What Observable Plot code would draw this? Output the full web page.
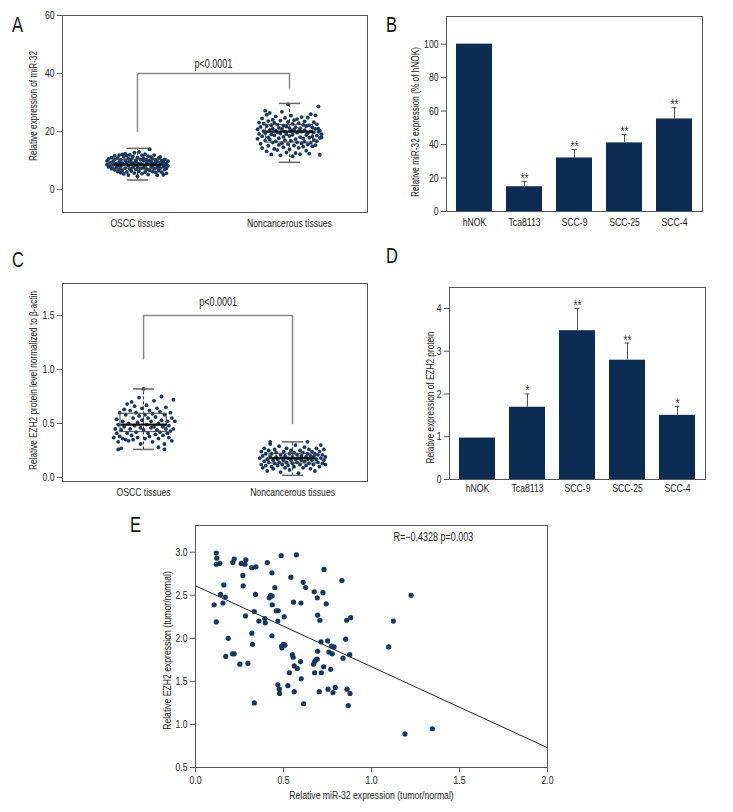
<!DOCTYPE html>
<html><head><meta charset="utf-8">
<script src="https://cdn.jsdelivr.net/npm/d3@7"></script>
<script src="https://cdn.jsdelivr.net/npm/@observablehq/plot@0.6"></script>
<style>
body{margin:0;background:#fff;}
#fig{position:relative;width:733px;height:812px;background:#fff;font-family:"Liberation Sans",Arial,sans-serif;}
.letter{position:absolute;font-size:22px;line-height:22px;color:#111;transform:scaleX(0.75);transform-origin:left top;}
</style></head><body><div id="fig"></div>
<script>
// ---------- DATA ----------
const tissueNames = ["OSCC tissues", "Noncancerous tissues"];
const groups = [1, 2];
const cells = ["hNOK", "Tca8113", "SCC-9", "SCC-25", "SCC-4"];

// Panel A: miR-32 relative expression, jittered points [offset, value]
const aOscc = [[-0.20,8.6],[-0.20,9.9],[-0.19,7.8],[-0.19,10.6],[-0.18,9.2],[-0.18,8.1],[-0.17,11.0],[-0.17,7.2],[-0.16,9.7],[-0.16,8.5],[-0.15,10.3],[-0.15,6.8],[-0.15,11.6],[-0.14,9.0],[-0.14,7.6],[-0.13,10.9],[-0.13,8.3],[-0.13,6.2],[-0.12,11.9],[-0.12,9.5],[-0.12,7.0],[-0.11,10.2],[-0.11,8.0],[-0.11,5.8],[-0.10,12.1],[-0.10,9.1],[-0.10,6.6],[-0.09,11.3],[-0.09,8.7],[-0.09,5.4],[-0.08,10.0],[-0.08,7.4],[-0.08,12.4],[-0.07,9.4],[-0.07,6.1],[-0.07,11.7],[-0.06,8.2],[-0.06,10.7],[-0.06,5.0],[-0.05,9.8],[-0.05,7.1],[-0.05,12.0],[-0.04,8.8],[-0.04,6.4],[-0.04,10.5],[-0.03,11.4],[-0.03,7.7],[-0.03,9.2],[-0.02,5.7],[-0.02,12.7],[-0.02,8.4],[-0.01,10.1],[-0.01,6.9],[-0.01,9.6],[0.00,11.1],[0.00,7.9],[0.00,4.6],[0.01,13.0],[0.01,8.9],[0.01,6.3],[0.02,10.4],[0.02,7.3],[0.02,9.0],[0.03,11.8],[0.03,5.5],[0.03,8.6],[0.04,10.8],[0.04,7.5],[0.04,9.9],[0.05,6.0],[0.05,12.2],[0.05,8.1],[0.06,10.3],[0.06,7.0],[0.06,9.3],[0.07,11.5],[0.07,5.2],[0.07,8.7],[0.08,13.9],[0.08,10.0],[0.08,6.7],[0.09,9.5],[0.09,7.8],[0.09,11.2],[0.10,8.3],[0.10,6.2],[0.10,10.6],[0.11,9.1],[0.11,7.2],[0.11,11.9],[0.12,8.6],[0.12,5.9],[0.12,10.2],[0.13,9.7],[0.13,7.6],[0.13,4.9],[0.14,8.0],[0.14,10.9],[0.14,6.5],[0.15,9.3],[0.15,7.4],[0.15,11.3],[0.16,8.8],[0.16,6.0],[0.16,10.1],[0.17,9.6],[0.17,7.9],[0.17,5.1],[0.18,8.4],[0.18,10.4],[0.18,6.9],[0.19,9.0],[0.19,7.3],[0.20,8.2],[0.20,9.8],[0.19,5.6]];
const aNon = [[-0.21,17.5],[-0.21,20.8],[-0.20,19.2],[-0.20,23.1],[-0.19,15.8],[-0.19,21.6],[-0.18,18.4],[-0.18,24.5],[-0.18,14.3],[-0.17,20.1],[-0.17,22.7],[-0.16,16.9],[-0.16,27.2],[-0.16,19.5],[-0.15,13.2],[-0.15,21.9],[-0.15,25.8],[-0.14,18.0],[-0.14,23.6],[-0.14,15.1],[-0.13,20.6],[-0.13,17.2],[-0.13,26.4],[-0.12,12.1],[-0.12,22.2],[-0.12,19.0],[-0.11,16.2],[-0.11,24.1],[-0.11,21.0],[-0.10,18.7],[-0.10,14.0],[-0.10,23.0],[-0.09,20.3],[-0.09,16.6],[-0.09,25.2],[-0.08,19.8],[-0.08,13.6],[-0.08,22.4],[-0.07,17.7],[-0.07,21.3],[-0.07,15.4],[-0.06,23.8],[-0.06,19.3],[-0.06,11.8],[-0.05,20.9],[-0.05,16.0],[-0.05,26.8],[-0.04,18.2],[-0.04,22.0],[-0.04,14.6],[-0.03,24.7],[-0.03,20.0],[-0.03,17.0],[-0.02,12.8],[-0.02,21.7],[-0.02,19.1],[-0.01,15.7],[-0.01,23.3],[-0.01,29.4],[0.00,18.5],[0.00,21.2],[0.00,13.9],[0.01,20.4],[0.01,16.8],[0.01,25.5],[0.02,11.5],[0.02,22.6],[0.02,18.9],[0.03,15.2],[0.03,20.7],[0.03,23.9],[0.04,17.4],[0.04,12.6],[0.04,21.5],[0.05,19.6],[0.05,16.3],[0.05,24.3],[0.06,20.2],[0.06,14.4],[0.06,22.9],[0.07,18.1],[0.07,12.2],[0.07,21.1],[0.08,15.9],[0.08,19.9],[0.08,25.0],[0.09,17.6],[0.09,22.3],[0.09,14.8],[0.10,20.5],[0.10,16.5],[0.10,23.5],[0.11,18.8],[0.11,13.4],[0.11,21.8],[0.12,19.4],[0.12,15.5],[0.12,24.8],[0.13,17.9],[0.13,22.1],[0.13,12.4],[0.14,20.0],[0.14,16.1],[0.14,26.0],[0.15,18.3],[0.15,21.4],[0.15,14.9],[0.16,23.2],[0.16,19.7],[0.16,17.1],[0.17,20.9],[0.17,15.3],[0.17,25.6],[0.18,18.6],[0.18,22.5],[0.18,16.7],[0.19,19.9],[0.19,21.0],[0.19,28.7],[0.20,17.8],[0.20,20.3],[0.20,12.0],[0.21,19.1],[0.21,18.0]];
const aQ1 = [7.0, 16.2], aMed = [8.6, 20.0], aQ3 = [10.3, 22.3], aLo = [3.3, 9.4], aHi = [14.2, 29.7];
const aBracketX = [1, 1, 2, 2], aBracketY = [20, 40, 40, 35];

// Panel B: miR-32 in cell lines (% of hNOK)
const bMean = [100, 14.8, 32, 41, 55.3];
const bUpper = [null, 18, 37, 46, 62];
const bSig = ["", "**", "**", "**", "**"];

// Panel C: EZH2 protein, jittered points [offset, value]
const cOscc = [[-0.20,0.37],[-0.19,0.45],[-0.18,0.41],[-0.18,0.54],[-0.17,0.33],[-0.17,0.49],[-0.16,0.60],[-0.16,0.38],[-0.15,0.44],[-0.15,0.27],[-0.14,0.52],[-0.14,0.36],[-0.13,0.63],[-0.13,0.47],[-0.12,0.35],[-0.12,0.58],[-0.11,0.41],[-0.11,0.68],[-0.10,0.50],[-0.10,0.34],[-0.09,0.62],[-0.09,0.45],[-0.08,0.70],[-0.08,0.39],[-0.07,0.55],[-0.07,0.35],[-0.06,0.66],[-0.06,0.48],[-0.05,0.60],[-0.05,0.42],[-0.04,0.51],[-0.04,0.37],[-0.03,0.57],[-0.03,0.74],[-0.02,0.46],[-0.02,0.31],[-0.01,0.53],[-0.01,0.64],[0.00,0.44],[0.00,0.82],[0.01,0.58],[0.01,0.36],[0.02,0.49],[0.02,0.67],[0.03,0.41],[0.03,0.55],[0.04,0.62],[0.04,0.38],[0.05,0.52],[0.05,0.46],[0.06,0.59],[0.06,0.33],[0.07,0.71],[0.07,0.47],[0.08,0.40],[0.08,0.56],[0.09,0.64],[0.09,0.44],[0.10,0.50],[0.10,0.36],[0.11,0.61],[0.11,0.42],[0.12,0.53],[0.12,0.75],[0.13,0.39],[0.13,0.47],[0.14,0.58],[0.14,0.31],[0.15,0.45],[0.15,0.65],[0.16,0.41],[0.16,0.52],[0.17,0.37],[0.17,0.48],[0.18,0.60],[0.18,0.43],[0.19,0.55],[0.19,0.34],[0.20,0.45],[0.20,0.72],[0.21,0.52],[0.14,0.26],[-0.17,0.26],[0.10,0.28]];
const cNon = [[-0.22,0.18],[-0.21,0.12],[-0.21,0.24],[-0.20,0.09],[-0.20,0.20],[-0.19,0.15],[-0.19,0.27],[-0.18,0.11],[-0.18,0.22],[-0.17,0.17],[-0.17,0.06],[-0.16,0.25],[-0.16,0.14],[-0.15,0.19],[-0.15,0.31],[-0.14,0.10],[-0.14,0.22],[-0.13,0.16],[-0.13,0.08],[-0.12,0.26],[-0.12,0.13],[-0.11,0.19],[-0.11,0.23],[-0.10,0.11],[-0.10,0.17],[-0.09,0.29],[-0.09,0.14],[-0.08,0.21],[-0.08,0.05],[-0.07,0.18],[-0.07,0.12],[-0.06,0.24],[-0.06,0.16],[-0.05,0.09],[-0.05,0.20],[-0.04,0.14],[-0.04,0.27],[-0.03,0.18],[-0.03,0.11],[-0.02,0.22],[-0.02,0.07],[-0.01,0.16],[-0.01,0.25],[0.00,0.13],[0.00,0.19],[0.01,0.10],[0.01,0.23],[0.02,0.17],[0.02,0.30],[0.03,0.14],[0.03,0.21],[0.04,0.04],[0.04,0.18],[0.05,0.25],[0.05,0.12],[0.06,0.20],[0.06,0.16],[0.07,0.09],[0.07,0.23],[0.08,0.15],[0.08,0.28],[0.09,0.19],[0.09,0.11],[0.10,0.22],[0.10,0.17],[0.11,0.13],[0.11,0.26],[0.12,0.08],[0.12,0.20],[0.13,0.16],[0.13,0.24],[0.14,0.12],[0.14,0.19],[0.15,0.22],[0.15,0.06],[0.16,0.17],[0.16,0.27],[0.17,0.14],[0.17,0.21],[0.18,0.10],[0.18,0.24],[0.19,0.18],[0.19,0.30],[0.20,0.13],[0.20,0.21],[0.21,0.16],[0.21,0.26],[0.22,0.12],[0.22,0.19],[0.10,0.33],[-0.15,0.33]];
const cQ1 = [0.42, 0.13], cMed = [0.49, 0.18], cQ3 = [0.59, 0.22], cLo = [0.26, 0.02], cHi = [0.82, 0.33];
const cBracketX = [1, 1, 2, 2], cBracketY = [1.1, 1.5, 1.5, 0.5];

// Panel D: EZH2 protein in cell lines
const dMean = [0.97, 1.69, 3.48, 2.79, 1.50];
const dUpper = [null, 2.0, 4.0, 3.19, 1.71];
const dSig = ["", "*", "**", "**", "*"];

// Panel E: correlation
const eX = [0.118,0.121,0.118,0.138,0.106,0.118,0.142,0.161,0.169,0.156,0.186,0.172,0.210,0.220,0.212,0.220,0.260,0.281,0.286,0.269,0.271,0.284,0.252,0.298,0.320,0.343,0.341,0.334,0.320,0.324,0.334,0.360,0.394,0.396,0.408,0.419,0.427,0.436,0.434,0.436,0.434,0.451,0.459,0.470,0.468,0.487,0.504,0.489,0.499,0.508,0.491,0.468,0.476,0.478,0.525,0.533,0.542,0.550,0.555,0.557,0.561,0.573,0.578,0.561,0.599,0.597,0.601,0.612,0.626,0.614,0.675,0.692,0.694,0.707,0.713,0.694,0.671,0.677,0.684,0.692,0.677,0.715,0.703,0.730,0.724,0.743,0.728,0.751,0.758,0.773,0.777,0.787,0.768,0.753,0.781,0.794,0.832,0.838,0.853,0.859,0.882,0.876,0.861,0.878,0.868,1.098,1.124,1.225,1.190,1.346];
const eY = [2.99,2.93,2.86,2.87,2.39,2.19,2.51,2.62,2.48,2.41,2.00,1.79,1.82,1.82,2.88,2.92,2.87,2.86,2.91,2.73,2.61,2.26,1.70,1.71,2.82,2.83,2.51,2.31,2.06,1.93,1.25,2.20,2.23,2.18,2.88,2.47,2.50,2.49,2.76,2.39,2.03,2.59,2.32,2.32,2.20,2.96,2.25,1.91,1.93,1.92,1.89,1.46,1.41,1.36,1.45,1.60,2.71,1.81,1.78,2.42,1.68,2.97,1.65,1.38,2.41,1.73,1.53,2.65,2.59,1.24,2.54,2.47,2.27,2.21,1.96,1.85,1.70,1.73,1.75,1.76,1.60,1.60,1.38,2.80,2.53,2.40,1.67,1.97,1.84,1.91,1.82,1.90,1.64,1.41,1.37,1.43,2.67,1.77,1.99,2.21,2.24,1.81,1.41,1.36,1.22,1.90,2.20,2.50,0.89,0.95];
const eFitX = [0, 2], eFitY = [2.61, 0.73];
const eStat = "R=−0.4328 p=0.003";

// ---------- DRAWING ----------
const fig = document.getElementById("fig");
const FONT = '"Liberation Sans",Arial,sans-serif';
const DOT = "#17375e";
const BAR = "#0d2c54";
const AX = "#555";
const SQUEEZE = 0.75;
const style = {fontFamily: FONT, fontSize: "11px", color: "#222", background: "transparent", overflow: "visible"};

function condense(svg) {
  svg.querySelectorAll("text").forEach(t => {
    const L = t.getComputedTextLength();
    if (L > 0) { t.setAttribute("textLength", (L * SQUEEZE).toFixed(2)); t.setAttribute("lengthAdjust", "spacingAndGlyphs"); }
  });
}
function place(el, l, t) { el.style.position = "absolute"; el.style.left = l + "px"; el.style.top = t + "px"; fig.appendChild(el); condense(el); }
function letter(txt, l, t) { const d = document.createElement("div"); d.className = "letter"; d.textContent = txt; d.style.left = l + "px"; d.style.top = t + "px"; fig.appendChild(d); }

function scatterPanel(o) {
  const stats = groups.map((g, i) => ({g, q1: o.q1[i], med: o.med[i], q3: o.q3[i], lo: o.lo[i], hi: o.hi[i]}));
  const pts = [...o.p1.map(d => ({x: 1 + d[0], y: d[1]})), ...o.p2.map(d => ({x: 2 + d[0], y: d[1]}))];
  const bw = 0.155, cw = 0.07;
  return Plot.plot({
    width: 370, height: 240, marginLeft: 62, marginRight: 3, marginTop: o.mt, marginBottom: o.mb,
    style,
    x: {domain: o.xDomain, label: null},
    y: {domain: o.yDomain, label: null},
    marks: [
      Plot.frame({stroke: AX}),
      Plot.axisY({ticks: o.yTicks, tickFormat: o.yFmt, tickSize: 5, tickPadding: 3, stroke: AX, label: null, fontSize: 11.5}),
      Plot.axisX({ticks: groups, tickFormat: d => tissueNames[d - 1], tickSize: 0, tickPadding: 6, label: null, fontSize: 11.5}),
      Plot.dot(pts, {x: "x", y: "y", r: 1.9, fill: DOT}),
      Plot.link(stats, {x1: "g", x2: "g", y1: "lo", y2: "hi", stroke: "#333", strokeDasharray: "3,2"}),
      Plot.rect(stats, {x1: d => d.g - bw, x2: d => d.g + bw, y1: "q1", y2: "q3", fill: "none", stroke: "#444", strokeWidth: 1}),
      Plot.link(stats, {x1: d => d.g - bw, x2: d => d.g + bw, y1: "med", y2: "med", stroke: "#111", strokeWidth: 2.2}),
      Plot.link(stats, {x1: d => d.g - cw, x2: d => d.g + cw, y1: "hi", y2: "hi", stroke: "#666", strokeWidth: 1.5}),
      Plot.link(stats, {x1: d => d.g - cw, x2: d => d.g + cw, y1: "lo", y2: "lo", stroke: "#666", strokeWidth: 1.5}),
      Plot.line(o.bx.map((x, i) => ({x, y: o.by[i]})), {x: "x", y: "y", stroke: "#888", strokeWidth: 1.5}),
      Plot.text(["p<0.0001"], {x: 1.5, y: o.by[1], dy: o.pDy, fontSize: 12, fill: "#222"}),
      Plot.text([o.ylab], {frameAnchor: "left", textAnchor: "middle", lineAnchor: "middle", rotate: -90, dx: -29, dy: o.ylabDy, fontSize: 11, fill: "#222"})
    ]
  });
}

function barPanel(o) {
  const data = cells.map((c, i) => ({c, m: o.mean[i], u: o.upper[i], s: o.sig[i]}));
  const err = data.filter(d => d.u != null);
  return Plot.plot({
    width: 363, height: 240, marginLeft: o.ml, marginRight: o.mr, marginTop: o.mt, marginBottom: o.mb,
    style,
    x: {domain: cells, paddingInner: 0.29, paddingOuter: 0.17, label: null},
    y: {domain: o.yDomain, label: null},
    marks: [
      Plot.barY(data, {x: "c", y: "m", fill: BAR}),
      Plot.ruleX(err, {x: "c", y1: "m", y2: "u", stroke: "#555", strokeWidth: 1}),
      Plot.tickY(err, {x: "c", y: "u", stroke: "#555", insetLeft: 15.5, insetRight: 15.5}),
      Plot.text(err, {x: "c", y: "u", text: "s", dy: o.starDy, fontSize: 14, fill: "#333"}),
      Plot.frame({stroke: AX}),
      Plot.axisY({ticks: o.yTicks, tickFormat: d3.format("d"), tickSize: 5, tickPadding: 3, stroke: AX, label: null, fontSize: 11.5}),
      Plot.axisX({tickSize: 0, tickPadding: o.xPad, label: null, fontSize: 11.5}),
      Plot.text([o.ylab], {frameAnchor: "left", textAnchor: "middle", lineAnchor: "middle", rotate: -90, dx: o.ylabDx, dy: o.ylabDy, fontSize: 11, fill: "#222"})
    ]
  });
}

// Panel A
place(scatterPanel({
  p1: aOscc, p2: aNon, q1: aQ1, med: aMed, q3: aQ3, lo: aLo, hi: aHi,
  bx: aBracketX, by: aBracketY, pDy: -9,
  xDomain: [0.507, 2.513], yDomain: [-7.9, 60], yTicks: [0, 20, 40, 60], yFmt: d3.format("d"),
  mt: 15, mb: 28, ylab: "Relative expression of miR-32", ylabDy: -8
}), 0, 0);

// Panel B
place(barPanel({
  mean: bMean, upper: bUpper, sig: bSig, yDomain: [0, 116.5], yTicks: [0, 20, 40, 60, 80, 100],
  ml: 76, mr: 31, mt: 16, mb: 29, starDy: -3, xPad: 6,
  ylab: "Relative miR-32 expression (% of hNOK)", ylabDx: -31, ylabDy: 8
}), 370, 0);

// Panel C
place(scatterPanel({
  p1: cOscc, p2: cNon, q1: cQ1, med: cMed, q3: cQ3, lo: cLo, hi: cHi,
  bx: cBracketX, by: cBracketY, pDy: -13,
  xDomain: [0.456, 2.503], yDomain: [-0.037, 1.796], yTicks: [0, 0.5, 1, 1.5], yFmt: d3.format(".1f"),
  mt: 13, mb: 29, ylab: "Relative EZH2 protein level normalized to β-actin", ylabDy: -2
}), 0, 270);

// Panel D
place(barPanel({
  mean: dMean, upper: dUpper, sig: dSig, yDomain: [0, 4.49], yTicks: [0, 1, 2, 3, 4],
  ml: 79, mr: 28, mt: 17, mb: 31, starDy: -3, xPad: 4,
  ylab: "Relative expression of EZH2 protein", ylabDx: -19, ylabDy: 14
}), 370, 270);

// Panel E
const ePts = eX.map((x, i) => ({x, y: eY[i]}));
const eFit = eFitX.map((x, i) => ({x, y: eFitY[i]}));
place(Plot.plot({
  width: 440, height: 297, marginLeft: 65, marginRight: 23, marginTop: 10, marginBottom: 45,
  style,
  x: {domain: [0, 2], label: null},
  y: {domain: [0.5, 3.31], label: null},
  marks: [
    Plot.frame({stroke: AX}),
    Plot.axisY({ticks: [0.5, 1, 1.5, 2, 2.5, 3], tickFormat: d3.format(".1f"), tickSize: 5, tickPadding: 3, stroke: AX, label: null, fontSize: 11.5}),
    Plot.axisX({ticks: [0, 0.5, 1, 1.5, 2], tickFormat: d3.format(".1f"), tickSize: 5, tickPadding: 3, stroke: AX, label: null, fontSize: 11.5}),
    Plot.line(eFit, {x: "x", y: "y", stroke: "#222", strokeWidth: 1}),
    Plot.dot(ePts, {x: "x", y: "y", r: 2.6, fill: DOT}),
    Plot.text([eStat], {x: 1.125, y: 3.17, textAnchor: "start", fontSize: 12, fill: "#222"}),
    Plot.text(["Relative miR-32 expression (tumor/normal)"], {frameAnchor: "bottom", lineAnchor: "middle", dy: 28, fontSize: 11.5, fill: "#222"}),
    Plot.text(["Relative EZH2 expression (tumor/normal)"], {frameAnchor: "left", textAnchor: "middle", lineAnchor: "middle", rotate: -90, dx: -28, dy: 4, fontSize: 11.5, fill: "#222"})
  ]
}), 130, 515);

letter("A", 12, 14);
letter("B", 386, 14);
letter("C", 12, 249);
letter("D", 386, 245);
letter("E", 130, 514);
</script></body></html>
